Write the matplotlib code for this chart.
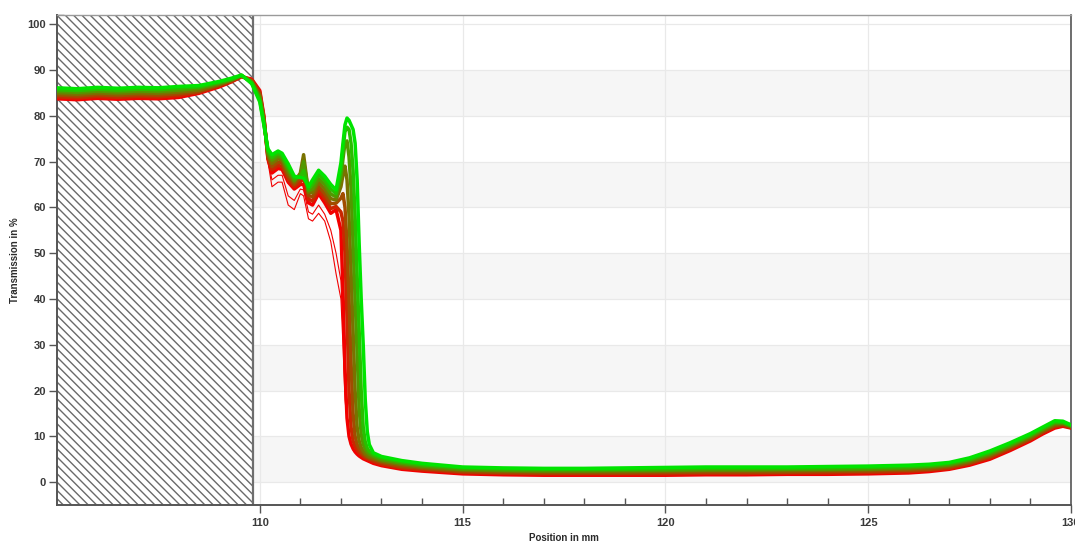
import numpy as np
import matplotlib
matplotlib.use("Agg")
import matplotlib.pyplot as plt
from matplotlib.ticker import MultipleLocator
from matplotlib.colors import to_rgb

plt.rcParams['font.family'] = ['Liberation Sans', 'DejaVu Sans']
plt.rcParams['font.weight'] = 'bold'
plt.rcParams['hatch.linewidth'] = 1.0

# ---------------- data ----------------
position_mm = [105.0, 105.5, 106.0, 106.5, 107.0, 107.5, 108.0, 108.5, 109.0, 109.3, 109.55, 109.8,
               110.0, 110.1, 110.2, 110.3, 110.45, 110.55, 110.7, 110.85,
               111.0, 111.08, 111.2, 111.3, 111.45, 111.6, 111.75, 111.88,
               112.0, 112.05, 112.1, 112.15, 112.2, 112.25, 112.3, 112.35, 112.4, 112.45,
               112.5, 112.55, 112.6, 112.65, 112.7,
               112.8, 113.0, 113.5, 114.0, 115.0, 116.0, 117.0, 118.0, 119.0, 120.0, 121.0,
               122.0, 123.0, 124.0, 125.0, 126.0, 126.5, 127.0, 127.5, 128.0, 128.5, 129.0,
               129.3, 129.6, 129.8, 130.0]

# measurement series, from first (red) to last (green)
trans_s0 = [83.7, 83.5, 83.8, 83.6, 83.8, 83.7, 84.0, 84.9, 86.3, 87.4, 88.5, 88.0,
            85.5, 80.0, 70.5, 67.5, 68.5, 68.3, 65.5, 64.0,
            65.0, 65.0, 61.0, 60.5, 63.0, 61.0, 58.7, 59.5,
            55.0, 42.0, 25.0, 14.0, 10.0, 8.3, 7.3, 6.6, 6.1, 5.7,
            5.4, 5.1, 4.9, 4.7, 4.5,
            4.1, 3.6, 2.8, 2.4, 1.8, 1.6, 1.5, 1.5, 1.5, 1.5, 1.6,
            1.6, 1.7, 1.7, 1.8, 2.0, 2.3, 2.8, 3.7, 5.0, 6.9, 9.0,
            10.5, 11.8, 12.2, 11.8]
trans_s1 = [84.1, 83.9, 84.2, 84.0, 84.2, 84.1, 84.4, 85.1, 86.5, 87.5, 88.6, 87.8,
            85.1, 79.7, 70.8, 68.2, 69.2, 68.9, 66.1, 64.5,
            65.5, 66.5, 61.8, 61.4, 63.8, 62.0, 59.7, 60.2,
            59.0, 57.0, 50.0, 36.0, 20.0, 12.0, 9.0, 7.8, 7.0, 6.4,
            6.0, 5.6, 5.3, 5.1, 4.9,
            4.5, 3.9, 3.1, 2.7, 2.1, 1.9, 1.8, 1.8, 1.8, 1.8, 1.9,
            1.9, 2.0, 2.0, 2.1, 2.3, 2.6, 3.0, 4.0, 5.3, 7.2, 9.3,
            10.8, 12.1, 12.4, 11.9]
trans_s2 = [84.5, 84.3, 84.6, 84.4, 84.6, 84.5, 84.8, 85.3, 86.7, 87.6, 88.7, 87.6,
            84.7, 79.4, 71.2, 68.9, 69.9, 69.6, 66.8, 65.0,
            66.5, 69.0, 62.6, 62.3, 64.6, 63.0, 60.8, 60.9,
            62.0, 63.0, 60.0, 52.0, 40.0, 26.0, 15.0, 10.0, 8.2, 7.3,
            6.6, 6.1, 5.7, 5.4, 5.2,
            4.9, 4.3, 3.4, 3.0, 2.3, 2.1, 2.0, 2.0, 2.0, 2.1, 2.2,
            2.2, 2.2, 2.3, 2.4, 2.6, 2.8, 3.3, 4.2, 5.6, 7.5, 9.5,
            11.0, 12.3, 12.6, 12.0]
trans_s3 = [84.9, 84.7, 85.0, 84.8, 85.0, 84.9, 85.2, 85.6, 86.9, 87.8, 88.7, 87.5,
            84.3, 79.0, 71.6, 69.6, 70.6, 70.3, 67.5, 65.5,
            67.5, 71.5, 63.2, 63.2, 65.5, 64.0, 61.9, 61.6,
            64.5, 67.0, 69.0, 66.0, 58.0, 46.0, 33.0, 20.0, 12.0, 9.0,
            7.6, 6.8, 6.2, 5.8, 5.5,
            5.2, 4.6, 3.8, 3.2, 2.6, 2.4, 2.3, 2.3, 2.3, 2.4, 2.5,
            2.5, 2.5, 2.6, 2.7, 2.9, 3.1, 3.6, 4.5, 5.9, 7.8, 9.8,
            11.3, 12.6, 12.8, 12.2]
trans_s4 = [85.3, 85.1, 85.4, 85.2, 85.4, 85.3, 85.6, 86.0, 87.1, 87.9, 88.8, 87.3,
            83.9, 78.7, 72.0, 70.3, 71.2, 70.8, 68.2, 65.9,
            67.0, 70.0, 63.6, 64.0, 66.3, 65.0, 62.9, 62.3,
            66.5, 70.5, 74.0, 74.5, 71.0, 64.0, 52.0, 40.0, 28.0, 16.0,
            10.5, 8.3, 7.2, 6.5, 6.1,
            5.6, 4.9, 4.1, 3.5, 2.8, 2.6, 2.5, 2.5, 2.6, 2.6, 2.7,
            2.7, 2.8, 2.8, 2.9, 3.1, 3.4, 3.8, 4.8, 6.2, 8.0, 10.1,
            11.5, 12.9, 12.9, 12.3]
trans_s5 = [85.7, 85.5, 85.8, 85.6, 85.8, 85.7, 86.0, 86.3, 87.3, 88.0, 88.8, 87.2,
            83.4, 78.3, 72.4, 70.9, 71.8, 71.3, 68.8, 66.4,
            66.7, 68.0, 64.0, 65.0, 67.2, 65.9, 64.0, 63.0,
            68.0, 72.5, 76.5, 77.5, 77.0, 74.0, 68.0, 58.0, 45.0, 33.0,
            20.0, 12.0, 8.8, 7.4, 6.7,
            6.0, 5.3, 4.4, 3.8, 3.1, 2.9, 2.8, 2.8, 2.8, 2.9, 3.0,
            3.0, 3.0, 3.1, 3.2, 3.4, 3.6, 4.1, 5.0, 6.5, 8.3, 10.3,
            11.8, 13.1, 13.1, 12.4]
trans_s6 = [86.1, 85.9, 86.2, 86.0, 86.2, 86.1, 86.4, 86.6, 87.5, 88.2, 88.9, 87.0,
            83.0, 78.0, 72.8, 71.5, 72.3, 71.8, 69.5, 66.8,
            66.5, 66.4, 64.5, 66.0, 68.1, 66.8, 65.0, 63.8,
            69.7, 74.0, 78.0, 79.5, 79.0, 78.0, 77.0, 74.0, 66.0, 52.0,
            40.0, 30.0, 18.0, 11.0, 8.2,
            6.4, 5.6, 4.7, 4.1, 3.3, 3.1, 3.0, 3.0, 3.1, 3.2, 3.3,
            3.3, 3.3, 3.4, 3.5, 3.7, 3.9, 4.3, 5.3, 6.8, 8.6, 10.6,
            12.0, 13.4, 13.3, 12.5]

# two outlying early measurements (thin red lines)
outlier_pos = [110.0, 110.1, 110.2, 110.3, 110.45, 110.55, 110.7, 110.85, 111.0, 111.08,
               111.2, 111.3, 111.45, 111.6, 111.75, 111.88, 112.0, 112.05, 112.1, 112.2, 112.3]
outlier_a = [85.5, 80.0, 70.0, 64.5, 65.5, 65.5, 60.5, 59.5, 63.0, 62.5,
             57.5, 57.0, 58.7, 57.0, 52.5, 45.5, 40.0, 30.0, 18.0, 9.5, 7.0]
outlier_b = [85.5, 80.0, 70.2, 66.0, 67.0, 67.0, 62.5, 61.5, 64.0, 63.8,
             59.0, 58.5, 60.5, 58.5, 55.0, 50.0, 44.0, 33.0, 20.0, 10.0, 7.2]

series = [trans_s0, trans_s1, trans_s2, trans_s3, trans_s4, trans_s5, trans_s6]

masked_end = 109.83          # end of hatched (excluded) zone
band_starts = [0, 20, 40, 60, 80]
x_major = [110, 115, 120, 125, 130]
y_major = list(range(0, 101, 10))

# ---------------- figure ----------------
W, H = 1075, 541
fig = plt.figure(figsize=(W / 100, H / 100), dpi=100)
ax = fig.add_axes([57 / W, 1 - 505 / H, (1071 - 57) / W, (505 - 15) / H])
ax.set_xlim(105, 130)
ax.set_ylim(-5, 102)

for lo in band_starts:
    ax.axhspan(lo, lo + 10, facecolor='#f6f6f6', lw=0, zorder=0)

ax.set_axisbelow(True)
ax.grid(True, which='major', color='#e9e9e9', lw=0.9)

ax.axvspan(105, masked_end, facecolor='white', edgecolor='#6a6a6a',
           hatch='\\\\\\\\', lw=0, zorder=1)
ax.axvline(masked_end, color='#6e6e6e', lw=1.6, zorder=1.5)

c_red = np.array(to_rgb('#f20000'))
c_green = np.array(to_rgb('#00e400'))

ax.plot(outlier_pos, outlier_a, color=c_red, lw=0.8, zorder=2)
ax.plot(outlier_pos, outlier_b, color=c_red, lw=0.8, zorder=2)

n = len(series)
for i, ys in enumerate(series):
    t = i / (n - 1)
    col = (1 - t) * c_red + t * c_green
    ax.plot(position_mm, ys, color=col, lw=2.5, zorder=3 + i,
            solid_joinstyle='round', solid_capstyle='round')

ax.set_xticks(x_major)
ax.set_yticks(y_major)
ax.xaxis.set_minor_locator(MultipleLocator(1))
ax.yaxis.set_minor_locator(MultipleLocator(2))
ax.tick_params(which='major', direction='out', length=6, width=1, color='#555555',
               labelsize=8, labelcolor='#3a3a3a', pad=2)
ax.tick_params(which='minor', direction='in', length=5, width=1, color='#555555')
ax.tick_params(axis='x', which='major', pad=3)

for side in ['left', 'bottom']:
    ax.spines[side].set_color('#555555')
    ax.spines[side].set_linewidth(1.4)
ax.spines['top'].set_color('#9a9a9a')
ax.spines['top'].set_linewidth(1.0)
ax.spines['right'].set_color('#555555')
ax.spines['right'].set_linewidth(1.2)

ax.set_xlabel('Position in mm', fontsize=7, fontweight='bold', color='#2a2a2a', labelpad=4)
ax.set_ylabel('Transmission in %', fontsize=7, fontweight='bold', color='#2a2a2a', labelpad=5)

fig.savefig('out.png', dpi=100, facecolor='white')
